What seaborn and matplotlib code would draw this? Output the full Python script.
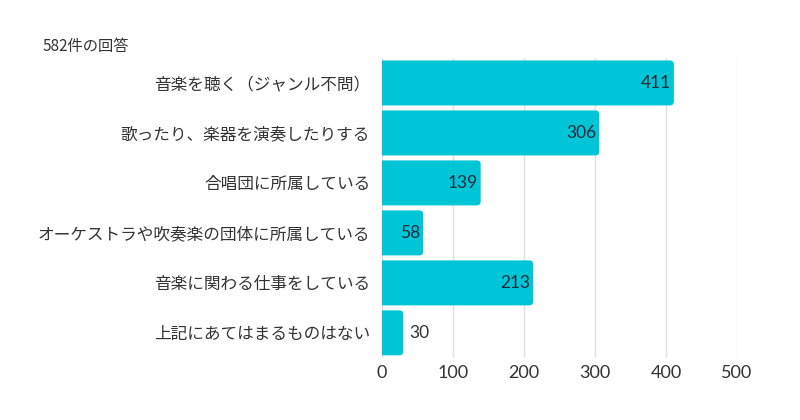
import matplotlib
matplotlib.use("Agg")
import matplotlib.pyplot as plt
import seaborn as sns
import pandas as pd
from matplotlib.patches import FancyBboxPatch

categories = ["音楽を聴く（ジャンル不問）", "歌ったり、楽器を演奏したりする", "合唱団に所属している",
              "オーケストラや吹奏楽の団体に所属している", "音楽に関わる仕事をしている", "上記にあてはまるものはない"]
counts = [411, 306, 139, 58, 213, 30]
xticks = [0, 100, 200, 300, 400, 500]
title = "582件の回答"

sns.set_theme(style="white")
plt.rcParams['font.family'] = ['Noto Sans CJK JP', 'DejaVu Sans']

df = pd.DataFrame({"cat": categories, "n": counts})
fig = plt.figure(figsize=(8, 4.2), dpi=100)
ax = fig.add_axes([0.4775, 0.148, 0.4438, 0.714])
color = "#00C5D7"
sns.barplot(data=df, y="cat", x="n", color=color, width=0.9, ax=ax, saturation=1)

# rounded bars
px_x = 500 / 355.0
px_y = 1 / 50.0
for p in list(ax.patches):
    x0, y0, w, h = p.get_x(), p.get_y(), p.get_width(), p.get_height()
    p.set_visible(False)
    r = 4 * px_x
    fb = FancyBboxPatch((x0 - 10, y0), w + 10, h,
                        boxstyle=f"round,pad=0,rounding_size={r}",
                        mutation_aspect=px_y / px_x, facecolor=color, edgecolor="none",
                        zorder=2, clip_on=True)
    ax.add_patch(fb)

ax.set_xlim(0, 500)
ax.set_ylim(5.5, -0.5)
ax.set_xticks(xticks)
ax.set_xticklabels([str(t) for t in xticks], fontsize=13, color="#333333", family=['Lato', 'DejaVu Sans'])
ax.tick_params(axis="x", length=0, pad=5)
ax.tick_params(axis="y", length=0, pad=8.5, labelsize=12, labelcolor="#333333")
ax.set_xlabel("")
ax.set_ylabel("")
for s in ax.spines.values():
    s.set_visible(False)
ax.grid(axis="x", color="#e0e0e0", linewidth=1, zorder=0)
ax.set_axisbelow(True)

for i, v in enumerate(counts):
    if v >= 50:
        ax.text(v - 3 * px_x, i, str(v), ha="right", va="center", fontsize=12.5,
                color="#1f2d3a", family=['Lato', 'DejaVu Sans'], zorder=3)
    else:
        ax.text(v + 6 * px_x, i, str(v), ha="left", va="center", fontsize=12.5,
                color="#333333", family=['Lato', 'DejaVu Sans'], zorder=3)

fig.text(43 / 800, 1 - 47 / 420, title, fontsize=11, color="#333333", va="center", ha="left")
fig.savefig("out.png", dpi=100, facecolor="white")
